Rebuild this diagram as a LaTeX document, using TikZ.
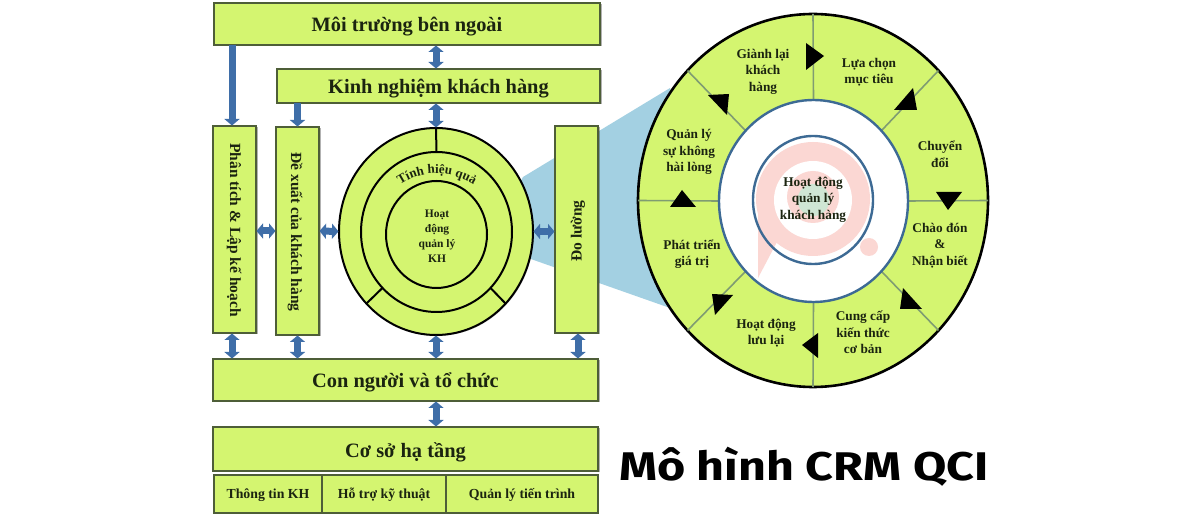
\documentclass[tikz,border=0pt]{standalone}
\usepackage{fontspec}
\setmainfont{Liberation Serif}
\newfontfamily\titlefont[FakeStretch=1.21]{Fira Sans}
\usetikzlibrary{arrows.meta,shapes.geometric,shadows,decorations.text}
\definecolor{lime}{HTML}{D4F570}
\definecolor{boxline}{HTML}{4E5E38}
\definecolor{arrowblue}{HTML}{3F6EA8}
\definecolor{cone}{HTML}{A3D0E2}
\definecolor{spoke}{HTML}{7F9C72}
\definecolor{ringblue}{HTML}{3D6A94}
\definecolor{ink}{HTML}{1B2410}
\definecolor{wmpink}{HTML}{FBD7D3}
\definecolor{wmgreen}{HTML}{CFE6D4}
\newcommand{\lowered}[2]{\raisebox{-#1pt}[0pt][0pt]{#2}}
\tikzset{
  panel/.style={draw=boxline,line width=1.6pt,fill=lime,inner sep=0pt,outer sep=0pt,text=ink,font=\bfseries,
    drop shadow={shadow xshift=1.5pt,shadow yshift=-1.5pt,opacity=.3,fill=black}},
  cell/.style={draw=boxline,line width=1.4pt,fill=lime,inner sep=0pt,outer sep=0pt,text=ink,font=\bfseries\fontsize{13.8}{15}\selectfont},
  disc/.style={ellipse,draw=black,line width=2pt,fill=lime,inner sep=0pt,outer sep=0pt},
  ringline/.style={ellipse,draw=ringblue,line width=2.4pt,inner sep=0pt,outer sep=0pt},
  both/.style={draw=arrowblue,line width=7pt,{Triangle[width=15pt,length=6.5pt]}-{Triangle[width=15pt,length=6.5pt]},shorten <=0.5pt,shorten >=0.5pt},
  one/.style={draw=arrowblue,line width=7pt,-{Triangle[width=15pt,length=6.5pt]},shorten >=0.5pt},
  wheeltext/.style={align=center,inner sep=0pt,text=ink,font=\bfseries\fontsize{13.3}{16.5}\selectfont},
  tri/.style={fill=black,draw=none},
  bigtext/.style={font=\bfseries\fontsize{20.4}{22}\selectfont},
  sidetext/.style={text=ink,inner sep=0pt,font=\bfseries\fontsize{15.5}{17}\selectfont},
}
\begin{document}
\begin{tikzpicture}[x=1pt,y=-1pt]
\path[use as bounding box,fill=white] (0,0) rectangle (1200,518);
% cone
\fill[cone] (523,177) -- (670,88) -- (700,200) -- (670,308) -- (528,258) -- (500,220) -- cycle;
% left boxes
\node[panel,bigtext,minimum width=386pt,minimum height=42pt] (env) at (407,24) {\lowered{8}{Môi trường bên ngoài}};
\node[panel,bigtext,minimum width=323pt,minimum height=34pt] (exp) at (438.5,86) {\lowered{8}{Kinh nghiệm khách hàng}};
\node[panel,minimum width=43pt,minimum height=207pt] (plan) at (234.5,229.5) {};
\node[rotate=-90,sidetext] (plantext) at (234,230) {Phân tích \& Lập kế hoạch};
\node[panel,minimum width=43pt,minimum height=208pt] (prop) at (297.5,231) {};
\node[rotate=-90,sidetext] (proptext) at (295,232) {Đề xuất của khách hàng};
\node[panel,minimum width=43pt,minimum height=207pt] (meas) at (576.5,229.5) {};
\node[rotate=90,sidetext] (meastext) at (578,231) {Đo lường};
\node[panel,bigtext,minimum width=385pt,minimum height=42pt] (people) at (405.5,380) {\lowered{8}{Con người và tổ chức}};
\node[panel,bigtext,minimum width=385pt,minimum height=44pt] (infra) at (405.5,449) {\lowered{9}{Cơ sở hạ tầng}};
\node[cell,minimum width=108pt,minimum height=38pt] (c1) at (268,494) {\lowered{5}{Thông tin KH}};
\node[cell,minimum width=124pt,minimum height=38pt] (c2) at (384,494) {\lowered{5}{Hỗ trợ kỹ thuật}};
\node[cell,minimum width=152pt,minimum height=38pt] (c3) at (522,494) {\lowered{5}{Quản lý tiến trình}};
% left circle
\node[disc,minimum width=194pt,minimum height=207pt,drop shadow={shadow xshift=1pt,shadow yshift=-1pt,opacity=.2,fill=black}] (outer) at (436,231.5) {};
\node[disc,minimum width=151pt,minimum height=160pt] (mid) at (436.5,232) {};
\node[disc,minimum width=101pt,minimum height=107pt] (core) at (436.5,234.5) {};
\draw[black,line width=2pt] (outer.north) -- (mid.north) (outer.226) -- (mid.226) (outer.314) -- (mid.314);
\path[decorate,decoration={text along path,text align=center,text color=ink,
  text={|\bfseries\fontsize{13}{15}\selectfont|Tính hiệu quả}}]
  (393,190) .. controls (420,168) and (452,168) .. (481,190);
\node[align=center,inner sep=0pt,text=ink,font=\bfseries\fontsize{11.5}{15}\selectfont] (coretext) at (437,236) {Hoạt\\động\\quản lý\\KH};
% arrows
\draw[one] ([xshift=-2.5pt]env.south -| plan.north) -- ([xshift=-2.5pt]plan.north);
\draw[both] (env.south -| outer.north) -- (exp.north -| outer.north);
\draw[one] (exp.south -| prop.north) -- (prop.north);
\draw[both] (exp.south -| outer.north) -- (outer.north);
\draw[both] (plan.east |- prop.east) -- (prop.west);
\draw[both] (prop.east) -- (outer.west);
\draw[both] (outer.east) -- (meas.west |- outer.east);
\draw[both] ([xshift=-2.5pt]plan.south) -- ([xshift=-2.5pt]plan.south |- people.north);
\draw[both] (prop.south) -- (prop.south |- people.north);
\draw[both] (outer.south) -- (outer.south |- people.north);
\draw[both] ([xshift=1.5pt]meas.south) -- ([xshift=1.5pt]meas.south |- people.north);
\draw[both] (people.south -| outer.south) -- (infra.north -| outer.south);
% wheel
\node[ellipse,draw=black,line width=2.6pt,fill=lime,inner sep=0pt,outer sep=0pt,minimum width=350pt,minimum height=373pt] (wheel) at (813,200.5) {};
\node[ellipse,fill=white,inner sep=0pt,outer sep=0pt,minimum width=189pt,minimum height=202pt] (ringfill) at (813.5,201) {};
\draw[spoke,line width=1.6pt]
  (wheel.north) -- (ringfill.north) (wheel.south) -- (ringfill.south)
  (wheel.west) -- (ringfill.west) (wheel.east) -- (ringfill.east)
  (wheel.46) -- (ringfill.46) (wheel.134) -- (ringfill.134)
  (wheel.226) -- (ringfill.226) (wheel.314) -- (ringfill.314);
% watermark
\fill[wmpink] (758,200) -- (758,278) -- (778,240) -- cycle;
\fill[wmpink] (813,199) circle[radius=57pt];
\fill[wmpink] (869,247) circle[radius=9pt];
\fill[white] (813,200) circle[radius=39pt];
\fill[wmpink] (813,197) circle[radius=26pt];
\fill[wmgreen] (813.5,200) circle[radius=16pt];
% rings
\node[ringline,minimum width=189pt,minimum height=202pt] (ring) at (813.5,201) {};
\node[ringline,minimum width=120pt,minimum height=128pt] (hub) at (813,200) {};
% triangles
\fill[tri] (806,43) -- (806,70) -- (824,56) -- cycle;
\fill[tri] (913,88) -- (894,110) -- (917,110) -- cycle;
\fill[tri] (936,192) -- (962,192) -- (948,210) -- cycle;
\fill[tri] (903,288) -- (900,309) -- (922,309) -- cycle;
\fill[tri] (818,333) -- (802,345) -- (818,358) -- cycle;
\fill[tri] (712,294) -- (733,295) -- (715,315) -- cycle;
\fill[tri] (682,190) -- (670,207) -- (696,207) -- cycle;
\fill[tri] (708,95) -- (729,94) -- (727,115) -- cycle;
% wheel text
\node[wheeltext] (t1) at (763,71.5) {Giành lại\\khách\\hàng};
\node[wheeltext] (t2) at (869,72) {Lựa chọn\\mục tiêu};
\node[wheeltext] (t3) at (940,154) {Chuyển\\đổi};
\node[wheeltext] (t4) at (689,152) {Quản lý\\sự không\\hài lòng};
\node[wheeltext] (t5) at (940,245.5) {Chào đón\\\&\\Nhận biết};
\node[wheeltext] (t6) at (692,254) {Phát triển\\giá trị};
\node[wheeltext] (t7) at (766,333) {Hoạt động\\lưu lại};
\node[wheeltext] (t8) at (863,332.5) {Cung cấp\\kiến thức\\cơ bản};
\node[wheeltext] (t9) at (813,199.5) {Hoạt động\\quản lý\\khách hàng};
% title
\node[anchor=base west,inner sep=0pt,text=black,font=\titlefont\bfseries\fontsize{40}{44}\selectfont] (title) at (619,481) {Mô hình CRM QCI};
\end{tikzpicture}
\end{document}
